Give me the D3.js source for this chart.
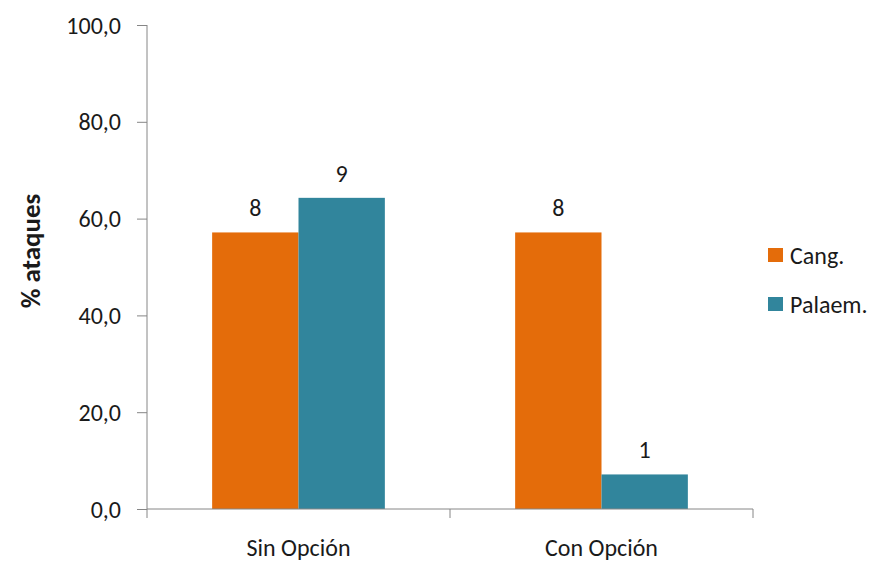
<!DOCTYPE html>
<html><head><meta charset="utf-8">
<script src="https://cdn.jsdelivr.net/npm/d3@7"></script>
<style>body{margin:0;background:#fff}svg{display:block}text{font-family:Carlito,Lato,"Open Sans",sans-serif;fill:#1a1a1a}</style>
</head><body><svg id="c" width="878" height="563"></svg>
<script>
const categories = ["Sin Opción", "Con Opción"];
const seriesNames = ["Cang.", "Palaem."];
const cangValues = [57.14, 57.14];
const palaemValues = [64.29, 7.14];
const cangLabels = ["8", "8"];
const palaemLabels = ["9", "1"];
const yTicks = [0, 20, 40, 60, 80, 100];
const colors = ["#E46C0A", "#31859C"];

const FS = "24px";
const svg = d3.select("#c");
const W = 878, H = 563;
const m = {l:147, t:25, r:W-753, b:H-509};
const x = d3.scaleBand().domain(categories).range([m.l, W-m.r]);
const y = d3.scaleLinear().domain([0,100]).range([H-m.b, m.t]);
const series = [
  {name: seriesNames[0], values: cangValues, labels: cangLabels, color: colors[0]},
  {name: seriesNames[1], values: palaemValues, labels: palaemLabels, color: colors[1]}
];
const groupFrac = 0.57;
const off = x.bandwidth()*(1-groupFrac)/2;
const xs = d3.scaleBand().domain(seriesNames).range([off, x.bandwidth()-off]);

series.forEach(s => {
  svg.append("g").selectAll("rect").data(categories).join("rect")
    .attr("x", c => x(c) + xs(s.name))
    .attr("y", (c,i) => y(s.values[i]))
    .attr("width", xs.bandwidth())
    .attr("height", (c,i) => y(0) - y(s.values[i]))
    .attr("fill", s.color);
  svg.append("g").selectAll("text").data(categories).join("text")
    .attr("x", c => x(c) + xs(s.name) + xs.bandwidth()/2)
    .attr("y", (c,i) => y(s.values[i]) - 16)
    .attr("text-anchor", "middle")
    .style("font-size", FS)
    .text((c,i) => s.labels[i]);
});

// Y axis
const yAxis = svg.append("g").attr("transform", `translate(${m.l},0)`)
  .call(d3.axisLeft(y).tickValues(yTicks).tickSize(10).tickPadding(16).tickFormat(d => d3.format(".1f")(d).replace(".", ",")));
yAxis.selectAll("text").style("font-size", FS).attr("fill", "#1a1a1a").attr("dy", "0.34em");
yAxis.selectAll("line, path").attr("stroke", "#868686");
yAxis.select("path").attr("d", `M0,${y(0)}V${y(100)}`);

// X axis
const xAxis = svg.append("g").attr("transform", `translate(0,${y(0)})`);
xAxis.append("line").attr("x1", m.l).attr("x2", W-m.r).attr("stroke", "#868686");
const bounds = [m.l, ...categories.map(c => x(c)+x.bandwidth())];
xAxis.selectAll("line.t").data(bounds).join("line").attr("class","t")
  .attr("x1", d=>d).attr("x2", d=>d).attr("y1", 0).attr("y2", 9).attr("stroke", "#868686");
xAxis.selectAll("text").data(categories).join("text")
  .attr("x", c => x(c)+x.bandwidth()/2).attr("y", 47)
  .attr("text-anchor","middle").style("font-size",FS).text(c=>c);

// Y title
svg.append("text").attr("transform", `translate(40,251) rotate(-90)`)
  .attr("text-anchor","middle").style("font-size","27px").style("font-weight","bold").text("% ataques");

// Legend
const lg = svg.append("g").attr("transform","translate(768,248)");
series.forEach((s,i) => {
  const g = lg.append("g").attr("transform", `translate(0,${i*49})`);
  g.append("rect").attr("width",15).attr("height",14).attr("fill", s.color);
  g.append("text").attr("x",22).attr("y",16).style("font-size",FS).text(s.name);
});
</script></body></html>
